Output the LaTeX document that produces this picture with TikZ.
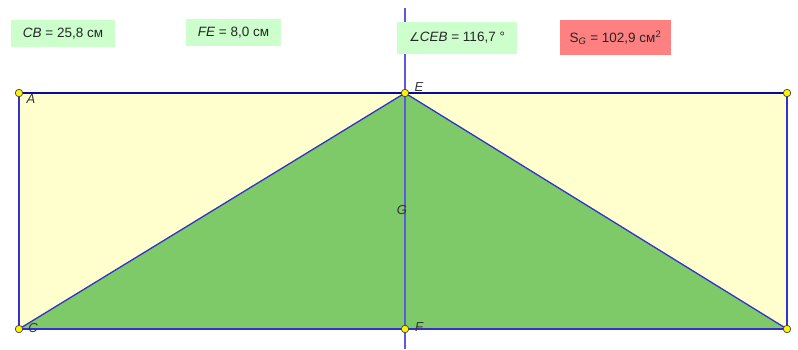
\documentclass[tikz,border=0pt]{standalone}
\usepackage{fontspec}
\setmainfont{Liberation Sans}
\newfontfamily\symfont{DejaVu Sans}
\usetikzlibrary{positioning}
\definecolor{geoYellow}{RGB}{255,255,206}
\definecolor{geoGreen}{RGB}{126,201,104}
\definecolor{geoBlue}{RGB}{50,50,200}
\definecolor{geoNavy}{RGB}{10,10,150}
\definecolor{geoLine}{RGB}{90,90,225}
\definecolor{boxGreen}{RGB}{204,255,204}
\definecolor{boxRed}{RGB}{255,128,128}

\begin{document}
\begin{tikzpicture}[
    x=1pt, y=-1pt,
    lblG/.style={rectangle, fill=boxGreen, inner sep=0pt, align=center, text=black!85, font=\fontsize{13.5}{15}\selectfont},
    lblR/.style={rectangle, fill=boxRed, inner sep=0pt, align=center, text=black!85, font=\fontsize{13.5}{15}\selectfont},
    pt/.style={circle, draw=black!75, fill=yellow, line width=0.7pt, inner sep=0pt, minimum size=7.5pt},
    ptname/.style={font=\fontsize{13}{15}\selectfont\itshape, text=black!80, inner sep=0pt},
    edge/.style={draw=geoBlue, line width=1.3pt}
]
\useasboundingbox (0,0) rectangle (798,349);
% points
\coordinate (A) at (19,93);
\coordinate (D) at (787,93);
\coordinate (C) at (19,329);
\coordinate (B) at (787,329);
\coordinate (E) at (405,93);
\coordinate (F) at (405,329);
\coordinate (Ltop) at (405,8);
\coordinate (Lbot) at (405,349);
% rectangle and triangle
\fill[geoYellow] (A) -- (D) -- (B) -- (C) -- cycle;
\fill[geoGreen] (C) -- (E) -- (B) -- cycle;
\draw[edge] (D) -- (B) -- (C) -- (A);
\draw[draw=geoNavy, line width=1.3pt] (A) -- (D);
\draw[edge] (C) -- (E) -- (B);
\draw[draw=geoLine, line width=1.5pt] (Ltop) -- (Lbot);
% measurements
\node[lblG, minimum width=104pt, minimum height=27pt] (cb) at (63,33.5) {\textit{CB} = 25,8 см};
\node[lblG, minimum width=95pt, minimum height=27pt] (fe) at (233.5,32.5) {\textit{FE} = 8,0 см};
\node[lblG, minimum width=120pt, minimum height=32pt] (ceb) at (457,38) {{\symfont\fontsize{12}{14}\selectfont ∠}\textit{CEB} = 116,7 °};
\node[lblR, minimum width=111pt, minimum height=35pt] (sg) at (615.5,37.5) {S\textsubscript{\textit{G}} = 102,9 см\textsuperscript{2}};
% labels
\node[ptname] (nA) at (31,99) {A};
\node[ptname] (nE) at (419,87) {E};
\node[ptname] (nC) at (33,328) {C};
\node[ptname] (nF) at (419,327) {F};
\node[ptname] (nG) at (402,210) {G};
\foreach \p in {A,D,C,B,E,F}
  \node[pt] (p\p) at (\p) {};
\end{tikzpicture}
\end{document}
